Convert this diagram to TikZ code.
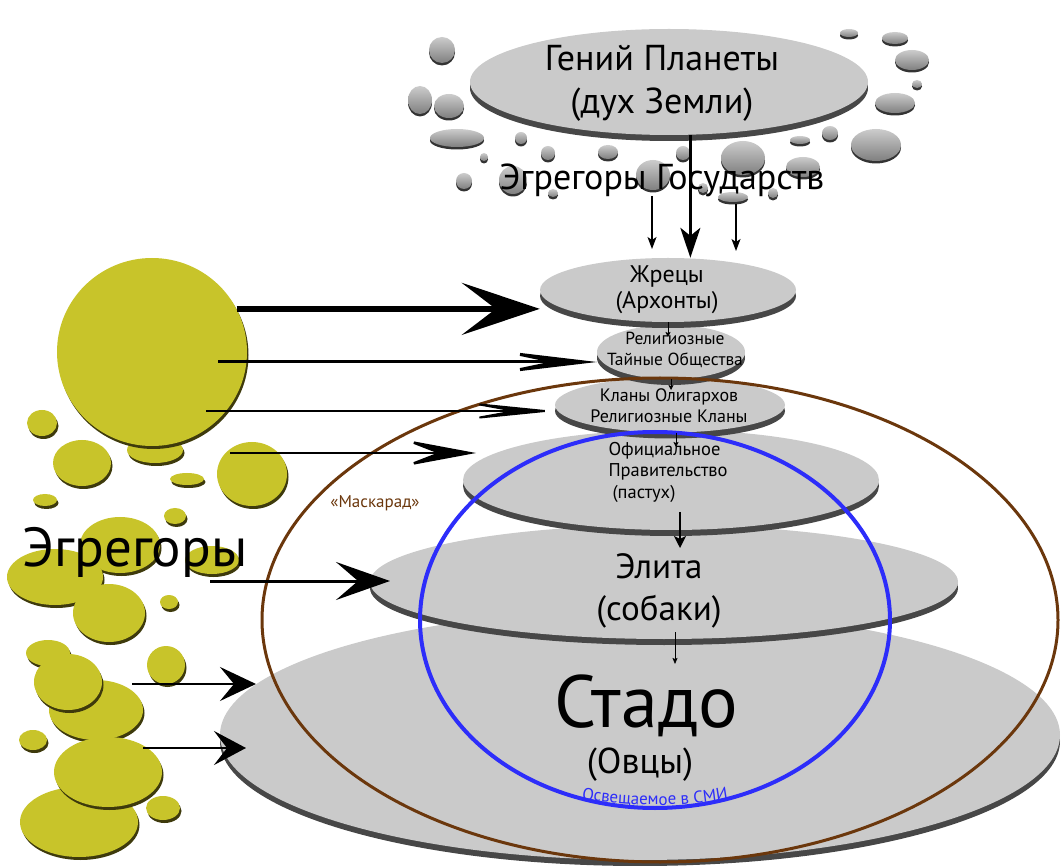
\documentclass[tikz,border=0pt]{standalone}
\usepackage{fontspec}
\setmainfont{PT Sans}
\usetikzlibrary{shapes.geometric,shadows,arrows.meta,decorations.text}
\definecolor{layergray}{RGB}{202,202,202}
\definecolor{egryellow}{RGB}{200,196,42}
\definecolor{egrshadow}{RGB}{62,58,12}
\definecolor{maskbrown}{RGB}{107,55,12}
\definecolor{mediablue}{RGB}{45,45,250}
\newcommand{\fsz}[2]{\fontsize{#1}{#2}\selectfont}

\begin{document}
\begin{tikzpicture}[x=1pt, y=-1pt,
    sz/.style 2 args={minimum width=#1, minimum height=#2},
    push/.style n args={4}{line width=#1, -{Stealth[length=#2, width=#3, inset=#4]}},
    lbl/.style 2 args={font=\fsz{#1}{#2}, align=center},
    layer/.style={ellipse, inner sep=0pt, fill=layergray,
      drop shadow={shadow xshift=0pt, shadow yshift=-6pt, fill=black!72, opacity=1}},
    bubble/.style={ellipse, inner sep=0pt, top color=black!20, bottom color=black!50,
      drop shadow={shadow xshift=0pt, shadow yshift=-2.5pt, fill=black!80, opacity=1}},
    blob/.style={ellipse, inner sep=0pt, fill=egryellow,
      drop shadow={shadow xshift=1.5pt, shadow yshift=-3pt, fill=egrshadow, opacity=1}}]

  \useasboundingbox (0,0) rectangle (1061,866);

  \node[blob, sz={56}{26}] (y1) at (155,450) {};
  \node[blob, sz={30}{26}] (y2) at (42,423) {};
  \node[blob, sz={58}{46}] (y3) at (82,463) {};
  \node[blob, sz={34}{12}] (y4) at (187,479) {};
  \node[blob, sz={70}{64}] (y5) at (252,474) {};
  \node[blob, sz={24}{12}] (y6) at (45,500) {};
  \node[blob, sz={22}{16}] (y7) at (175,516) {};
  \node[blob, sz={80}{56}] (y8) at (120,545) {};
  \node[blob, sz={96}{56}] (y9) at (55,577) {};
  \node[blob, sz={54}{28}] (y10) at (212,560) {};
  \node[blob, sz={72}{58}] (y11) at (109,613) {};
  \node[blob, sz={18}{14}] (y12) at (169,602) {};
  \node[blob, sz={44}{26}] (y13) at (48,653) {};
  \node[blob, sz={38}{38}] (y14) at (166,665) {};
  \node[blob, sz={94}{60}] (y15) at (96,710) {};
  \node[blob, sz={68}{56}] (y16) at (68,682) {};
  \node[blob, sz={28}{20}] (y17) at (33,740) {};
  \node[blob, sz={118}{70}] (y18) at (79,822) {};
  \node[blob, sz={108}{70}] (y19) at (108,772) {};
  \node[blob, sz={34}{24}] (y20) at (163,808) {};
  \node[blob, sz={190}{188}] (egr0) at (152,352) {};
  \node[font=\fsz{55}{55}] (egr-t) at (135,552) {Эгрегоры};

  \node[bubble, sz={26}{26}] (b1) at (442,50) {};
  \node[bubble, sz={24}{28}] (b3) at (420,100) {};
  \node[bubble, sz={30}{24}] (b4) at (449,106) {};
  \node[bubble, sz={54}{18}] (b5) at (457,138) {};
  \node[bubble, sz={12}{12}] (b6) at (521,138) {};
  \node[bubble, sz={14}{14}] (b7) at (548,153) {};
  \node[bubble, sz={8}{8}] (b8) at (484,157) {};
  \node[bubble, sz={16}{16}] (b9) at (464,181) {};
  \node[bubble, sz={28}{28}] (b10) at (513,180) {};
  \node[bubble, sz={10}{8}] (b11) at (553,193) {};
  \node[bubble, sz={20}{14}] (b12) at (608,152) {};
  \node[bubble, sz={14}{14}] (b13) at (683,153) {};
  \node[bubble, sz={34}{30}] (b14) at (653,175) {};
  \node[bubble, sz={44}{34}] (b15) at (743,158) {};
  \node[bubble, sz={30}{10}] (b16) at (733,197) {};
  \node[bubble, sz={10}{10}] (b17) at (703,188) {};
  \node[bubble, sz={10}{10}] (b18) at (773,193) {};
  \node[bubble, sz={18}{8}] (b19) at (849,33) {};
  \node[bubble, sz={26}{12}] (b20) at (895,38) {};
  \node[bubble, sz={34}{20}] (b21) at (912,60) {};
  \node[bubble, sz={10}{8}] (b22) at (917,84) {};
  \node[bubble, sz={40}{20}] (b23) at (895,103) {};
  \node[bubble, sz={16}{14}] (b24) at (830,133) {};
  \node[bubble, sz={20}{8}] (b25) at (800,140) {};
  \node[bubble, sz={50}{32}] (b26) at (876,145) {};
  \node[bubble, sz={34}{20}] (b27) at (803,167) {};

  \node[layer, sz={398}{106}] (genius) at (669,82) {};
  \node[lbl={36}{43}] (genius-t) at (662,83) {Гений Планеты\\(дух Земли)};
  \node[lbl={36}{36}] (state-egr) at (662,180) {Эгрегоры Государств};

  \node[layer, sz={840}{250}] (herd) at (640,735) {};
  \node[layer, sz={588}{114}] (elite) at (664,582) {};
  \node[layer, sz={416}{100}] (official) at (671,480) {};
  \node[layer, sz={230}{55}] (clans) at (670,405) {};
  \node[layer, sz={148}{54}] (secret) at (671,352) {};
  \node[layer, sz={256}{64}] (priests) at (668,290) {};

  \node[lbl={24}{26}] (priests-t) at (667,290) {Жрецы\\(Архонты)};
  \node[lbl={17.5}{21}] (secret-t) at (675,350) {Религиозные\\Тайные Общества};
  \node[lbl={18}{21}] (clans-t) at (669,406) {Кланы Олигархов\\Религиозные Кланы};
  \node[lbl={18.5}{21.5}, align=left, anchor=west] (official-t) at (605,472) {Официальное\\Правительство\\\hspace{4pt}(пастух)};
  \node[lbl={35}{42}] (elite-t) at (659,591) {Элита\\(собаки)};
  \node[font=\fsz{74}{74}, inner sep=0pt] (herd-t) at (646,706) {Стадо};
  \node[font=\fsz{36}{36}, inner sep=0pt] (sheep-t) at (640,765) {(Овцы)};

  \node[ellipse, draw=maskbrown, line width=3pt, sz={796}{484}] (mask) at (660,620) {};
  \node[ellipse, draw=mediablue, line width=4pt, sz={470}{376}] (media) at (655,620) {};
  \node[font=\fsz{17}{17}, text=maskbrown] (mask-t) at (375,503) {«Маскарад»};
  \path[decorate, decoration={text along path, text color=mediablue, text align=center,
      text={|\fsz{17}{17}|Освещаемое в СМИ}}]
    (555,793) .. controls (610,809) and (700,809) .. (755,793);

  \coordinate (s2) at (218,362);
  \coordinate (s3) at (206,411);
  \coordinate (s4) at (230,453);
  \coordinate (e4) at (476,453);
  \coordinate (s5) at (210,581);
  \coordinate (e5) at (390,581);
  \coordinate (s6) at (132,684);
  \coordinate (e6) at (256,684);
  \coordinate (s7) at (143,748);
  \coordinate (e7) at (246,748);
  \draw[push={6pt}{78pt}{52pt}{34pt}] (egr0.27) -- (egr0.27 -| priests.west);
  \draw[push={3pt}{110pt}{26pt}{62pt}] (s2) -- (s2 -| secret.west);
  \draw[push={2pt}{100pt}{20pt}{55pt}] (s3) -- (s3 -| clans.west);
  \draw[push={2.5pt}{75pt}{28pt}{36pt}] (s4) -- (e4);
  \draw[push={3pt}{54pt}{38pt}{22pt}] (s5) -- (e5);
  \draw[push={2.5pt}{36pt}{34pt}{14pt}] (s6) -- (e6);
  \draw[push={2.5pt}{32pt}{34pt}{13pt}] (s7) -- (e7);

  \coordinate (sL) at (652,196);
  \coordinate (eL) at (652,249);
  \coordinate (sR) at (736,204);
  \coordinate (eR) at (736,251);
  \draw[push={2.5pt}{30pt}{20pt}{8pt}] (genius.-68) -- (genius.-68 |- priests.north);
  \draw[push={1.2pt}{12pt}{9pt}{3pt}] (sL) -- (eL);
  \draw[push={1.2pt}{12pt}{9pt}{3pt}] (sR) -- (eR);

  \coordinate (k1) at (668,337);
  \coordinate (k2) at (671,390);
  \coordinate (k3) at (676,447);
  \coordinate (k4s) at (680,512);
  \coordinate (k4) at (680,548);
  \coordinate (k5s) at (675,632);
  \coordinate (k5) at (675,664);
  \draw[push={0.8pt}{5pt}{5pt}{1pt}] (priests.south) -- (k1);
  \draw[push={0.8pt}{5pt}{5pt}{1pt}] (secret.south) -- (k2);
  \draw[push={0.8pt}{5pt}{5pt}{1pt}] (clans.south -| k3) -- (k3);
  \draw[push={1.6pt}{12pt}{12pt}{3pt}] (k4s) -- (k4);
  \draw[push={0.7pt}{6pt}{5pt}{1pt}] (k5s) -- (k5);

\end{tikzpicture}
\end{document}
